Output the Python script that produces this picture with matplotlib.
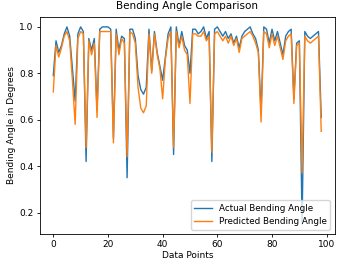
import numpy as np
import matplotlib
matplotlib.use("Agg")
import matplotlib.pyplot as plt

# values (index 0..98)
actual = [0.79, 0.94, 0.89, 0.92, 0.97, 1.00, 0.96, 0.82, 0.68, 0.97,
          1.00, 0.98, 0.42, 0.95, 0.90, 0.95, 0.64, 0.99, 1.00, 1.00,
          1.00, 0.99, 0.52, 0.99, 0.90, 0.96, 0.95, 0.35, 0.99, 0.99,
          0.95, 0.79, 0.73, 0.71, 0.74, 0.99, 0.81, 0.98, 0.89, 0.83,
          0.77, 0.87, 0.97, 1.00, 0.45, 1.00, 0.92, 0.98, 0.92, 0.90,
          0.80, 0.99, 0.99, 0.97, 0.98, 1.00, 0.95, 0.98, 0.42, 0.99,
          1.00, 0.98, 0.96, 0.98, 0.95, 0.97, 0.93, 0.96, 0.91, 0.96,
          0.98, 0.99, 1.00, 0.97, 0.95, 0.90, 0.63, 1.00, 0.99, 0.93,
          0.99, 0.94, 0.98, 0.93, 0.88, 0.96, 0.98, 0.99, 0.69, 0.93,
          0.94, 0.15, 0.98, 0.96, 0.95, 0.96, 0.97, 0.98, 0.61]

predicted = [0.72, 0.92, 0.87, 0.91, 0.96, 0.98, 0.94, 0.77, 0.58, 0.95,
             0.98, 0.97, 0.48, 0.94, 0.88, 0.93, 0.61, 0.98, 0.98, 0.98,
             0.98, 0.98, 0.50, 0.97, 0.88, 0.95, 0.93, 0.44, 0.98, 0.97,
             0.93, 0.74, 0.65, 0.63, 0.66, 0.97, 0.80, 0.97, 0.88, 0.82,
             0.69, 0.86, 0.95, 0.98, 0.48, 0.98, 0.91, 0.96, 0.90, 0.88,
             0.67, 0.97, 0.97, 0.96, 0.96, 0.98, 0.94, 0.96, 0.46, 0.97,
             0.98, 0.96, 0.94, 0.96, 0.93, 0.96, 0.92, 0.95, 0.89, 0.95,
             0.96, 0.97, 0.98, 0.96, 0.93, 0.89, 0.59, 0.98, 0.97, 0.91,
             0.97, 0.92, 0.96, 0.91, 0.86, 0.94, 0.96, 0.97, 0.67, 0.92,
             0.93, 0.37, 0.96, 0.94, 0.93, 0.94, 0.95, 0.96, 0.55]

x = np.arange(len(actual))

fig = plt.figure(figsize=(3.38, 2.62), dpi=100)
ax = fig.add_axes([0.118, 0.107, 0.872, 0.828])

ax.plot(x, actual, label='Actual Bending Angle', color='#1f77b4', linewidth=1.0)
ax.plot(x, predicted, label='Predicted Bending Angle', color='#ff7f0e', linewidth=1.0)

ax.set_title('Bending Angle Comparison', fontsize=7.5)
ax.set_xlabel('Data Points', fontsize=6.5, labelpad=1)
ax.set_ylabel('Bending Angle in Degrees', fontsize=6.5, labelpad=2)
ax.tick_params(labelsize=6.5, length=2.5, width=0.6, pad=2)
for s in ax.spines.values():
    s.set_linewidth(0.6)
ax.legend(loc='lower right', fontsize=6.3, handlelength=2.0)

fig.savefig('out.png', dpi=100)
